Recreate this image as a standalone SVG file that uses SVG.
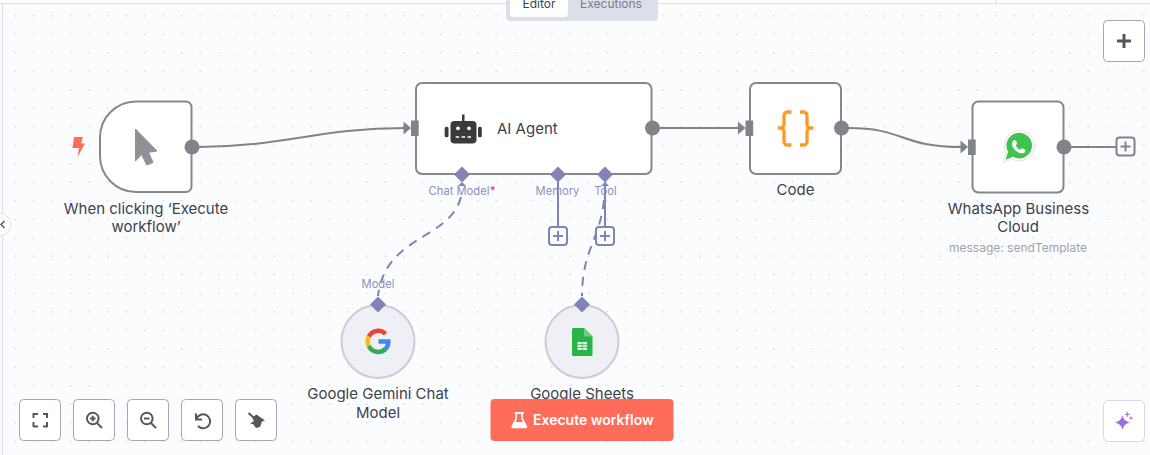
<svg xmlns="http://www.w3.org/2000/svg" width="1150" height="455" viewBox="0 0 1150 455">
<style>
text{font-family:Inter,"Noto Sans","Liberation Sans",sans-serif}
.lbl{font-size:15px;fill:#3f414d;text-anchor:middle}
.sub{font-size:12px;fill:#a0a3ad;text-anchor:middle}
.port{font-size:11.2px;fill:#8b8fc2;text-anchor:middle}
.box{fill:#fff;stroke:#85878f;stroke-width:2}
.out{fill:#808389}
.in{fill:#808389}
.edge{fill:none;stroke:#808389;stroke-width:2}
.sup{fill:none;stroke:#7f83b8;stroke-width:2}
.dash{fill:none;stroke:#7f83b8;stroke-width:2;stroke-dasharray:9 7}
.dia{fill:#7f83b8}
.pbox{fill:#fbfcfe;stroke:#7f83b8;stroke-width:2}
.pplus{fill:none;stroke:#7f83b8;stroke-width:2}
.sub-node{fill:#eff0f5;stroke:#c9ccdb;stroke-width:2}
.btn{fill:#fff;stroke:#a3a7b5;stroke-width:1}
.ico{fill:none;stroke:#555760;stroke-width:2}
</style>
<defs>
<pattern id="dots" width="18.5" height="18.5" patternUnits="userSpaceOnUse" x="6" y="6.5">
<circle cx="9.3" cy="9.2" r="0.7" fill="#c4c6cf"/>
</pattern>
</defs>
<g id="canvas">
<rect width="1150" height="455" fill="#fbfcfe"/>
<rect x="3" y="4" width="1147" height="451" fill="url(#dots)"/>
<rect x="0" y="0" width="1150" height="3.5" fill="#fff"/>
<path d="M0 3.5H1150M2.5 3.5V455M995.5 0V3.5" fill="none" stroke="#dcdfe8" stroke-width="1"/>
</g>
<g id="tabs">
<path d="M506 0H658V17a4 4 0 0 1-4 4H510a4 4 0 0 1-4-4Z" fill="#dbdfe9"/>
<path d="M510 0H568V13a4 4 0 0 1-4 4H514a4 4 0 0 1-4-4Z" fill="#fff"/>
<text x="539" y="8" text-anchor="middle" font-size="12px" fill="#3f414d">Editor</text>
<text x="611" y="8" text-anchor="middle" font-size="12px" fill="#7a7c87">Executions</text>
</g>
<g id="collapse">
<circle cx="0" cy="224.500" r="11" fill="#fff" stroke="#e0e2ea"/>
<path d="M4.500 221L1 224.500L4.500 228" fill="none" stroke="#555760" stroke-width="1.500"/>
</g>
<g id="connectors">
<path class="edge" d="M199 147C280 147 320 128 405 128"/>
<path class="edge" d="M659 128H739"/>
<path class="edge" d="M848 128C905 128 900 147 962 147"/>
<path class="edge" d="M1071 147H1116"/>
<path class="sup" d="M558 182V226M605 182V226"/>
<path class="dash" d="M461 197C450 240 385 235 378 296"/>
<path class="dash" d="M604 200C600 240 582 250 582 296"/>
<path class="dia" d="M462 182l4 4h-8ZM605 182l4 4h-8Z"/>
<rect x="549" y="227" width="18" height="18" rx="3" class="pbox"/>
<path class="pplus" d="M553 236h10M558 231v10"/>
<rect x="596" y="227" width="18" height="18" rx="3" class="pbox"/>
<path class="pplus" d="M600 236h10M605 231v10"/>
<rect x="1116.500" y="137.500" width="18" height="18" rx="3" fill="#fbfcfe" stroke="#808389" stroke-width="2"/>
<path d="M1120.500 146.500h10M1125.500 141.500v10" fill="none" stroke="#808389" stroke-width="2"/>
</g>
<g id="node-trigger">
<path class="box" d="M136 101.500H186a5.500 5.500 0 0 1 5.500 5.500V186.500a5.500 5.500 0 0 1-5.500 5.500H136a36 36 0 0 1-36-36V137.500a36 36 0 0 1 36-36Z"/>
<path fill="#909096" stroke="#909096" stroke-linejoin="round" d="M135.500 129L157 151L148.500 152.300L153 162.500L146.700 165L141.700 154.500L135.500 161Z"/>
<path fill="#ff6d5a" d="M74 137H83L81 143.500H85L77.500 157L79 148H72.500Z"/>
<circle class="out" cx="192" cy="147" r="7.500"/>
<text class="lbl" x="146" y="214">When clicking ‘Execute</text>
<text class="lbl" x="146" y="232">workflow’</text>
</g>
<g id="node-agent">
<rect class="box" x="416" y="83" width="235.500" height="91" rx="6"/>
<rect class="in" x="411" y="120.500" width="7.700" height="15.500"/>
<path class="in" d="M403.500 121.500L411 128L403.500 134.500Z"/>
<circle class="out" cx="652.500" cy="128" r="7.500"/>
<path fill="#3a3a3d" d="M462 114.500h2.500v6.500h8a4 4 0 0 1 4 4v14.500a4 4 0 0 1-4 4h-18a4 4 0 0 1-4-4V125a4 4 0 0 1 4-4h7.500Z"/>
<rect x="444.700" y="126.700" width="3.800" height="10.500" rx="1.500" fill="#3a3a3d"/>
<rect x="478" y="126.700" width="3.800" height="10.500" rx="1.500" fill="#3a3a3d"/>
<circle cx="458" cy="128.300" r="1.900" fill="#fff"/>
<circle cx="469" cy="128.300" r="1.900" fill="#fff"/>
<path d="M455.700 137h15.300" stroke="#fff" stroke-width="1.600" stroke-dasharray="3.500 2.400" fill="none"/>
<text x="497" y="134" font-size="15px" fill="#3f414d">AI Agent</text>
<path class="dia" d="M462 166.500L470 174.500L462 182.500L454 174.500Z"/>
<path class="dia" d="M558 166.500L566 174.500L558 182.500L550 174.500Z"/>
<path class="dia" d="M605 166.500L613 174.500L605 182.500L597 174.500Z"/>
<text class="port" x="459" y="195">Chat Model</text>
<text x="490" y="194" font-size="11px" fill="#f0284a">*</text>
<text class="port" x="557.500" y="195">Memory</text>
<text class="port" x="605.500" y="195">Tool</text>
</g>
<g id="node-code">
<rect class="box" x="750" y="83" width="91" height="91" rx="6"/>
<rect class="in" x="745.500" y="120.500" width="7.700" height="15.500"/>
<path class="in" d="M738 121.500L745.500 128L738 134.500Z"/>
<circle class="out" cx="841.500" cy="128" r="7.500"/>
<path fill="none" stroke="#ff9922" stroke-width="3.300" d="M791.500 112H787.500a3.500 3.500 0 0 0-3.500 3.500V124.500a3.500 3.500 0 0 1-3.500 3.500H778a0 0 0 0 0 0 0H780.500a3.500 3.500 0 0 1 3.500 3.500V141.500a3.500 3.500 0 0 0 3.500 3.500H791.500"/>
<path fill="none" stroke="#ff9922" stroke-width="3.300" d="M800 112H803.500a3.500 3.500 0 0 1 3.500 3.500V124.500a3.500 3.500 0 0 0 3.500 3.500H813.300H810.500a3.500 3.500 0 0 0-3.500 3.500V141.500a3.500 3.500 0 0 1-3.500 3.500H800"/>
<text class="lbl" x="795.500" y="195">Code</text>
</g>
<g id="node-whatsapp">
<rect class="box" x="972.500" y="101.500" width="91" height="91" rx="6"/>
<rect class="in" x="968" y="139.500" width="7.700" height="15.500"/>
<path class="in" d="M960.500 140.500L968 147L960.500 153.500Z"/>
<circle class="out" cx="1064" cy="147" r="7.500"/>
<path fill="#fff" stroke="#dfe5e2" stroke-width="1" d="M1003 162.500L1006 152.500A15 15 0 1 1 1012 158.800Z"/>
<path fill="#40c351" d="M1005.500 160L1008 151.800A12.800 12.800 0 1 1 1013 156.800Z"/>
<path fill="#fff" d="M1013.500 140.500c1-1 2-.5 2.500.5l1 2c.3.800-.8 1.800-1.200 2.500c1 2 2.300 3.200 4.300 4.200c.7-.7 1.500-1.800 2.300-1.500l2.300 1.200c1 .5 .8 1.700.2 2.500c-1.500 2-4 1.700-6.500.5c-3-1.500-5-4-6-6.500c-.7-2-.3-4 1.100-5.400Z"/>
<text class="lbl" x="1018.500" y="214">WhatsApp Business</text>
<text class="lbl" x="1018" y="232">Cloud</text>
<text class="sub" x="1018" y="252">message: sendTemplate</text>
</g>
<g id="node-gemini">
<circle class="sub-node" cx="378" cy="341.500" r="36.500"/>
<path class="dia" d="M378 296.500L386 304.500L378 312.500L370 304.500Z"/>
<path fill="none" stroke="#ea4335" stroke-width="4.500" d="M385.500 333.800A10.500 10.500 0 0 0 368.800 336.500"/>
<path fill="none" stroke="#fbbc05" stroke-width="4.500" d="M368.800 336.500A10.500 10.500 0 0 0 368.800 346"/>
<path fill="none" stroke="#34a853" stroke-width="4.500" d="M368.800 346A10.500 10.500 0 0 0 385.500 349"/>
<path fill="none" stroke="#4285f4" stroke-width="4.500" d="M385.500 349A10.500 10.500 0 0 0 388.300 341.500H378.500"/>
<text class="port" x="378" y="288">Model</text>
<text class="lbl" x="378" y="399">Google Gemini Chat</text>
<text class="lbl" x="378" y="418">Model</text>
</g>
<g id="node-sheets">
<circle class="sub-node" cx="582" cy="341.500" r="36.500"/>
<path class="dia" d="M582 296.500L590 304.500L582 312.500L574 304.500Z"/>
<path fill="#28b446" d="M573.500 328H584L592.500 336.500V354.500a1.500 1.500 0 0 1-1.500 1.500H573.500a1.500 1.500 0 0 1-1.500-1.500V329.500a1.500 1.500 0 0 1 1.500-1.500Z"/>
<path fill="#6ace7c" d="M584 328L592.500 336.500H584Z"/>
<rect x="577.500" y="342" width="9.500" height="8" fill="#e9f7ec"/>
<path d="M577.500 344.700H587M577.500 347.400H587M582.200 342V350" stroke="#28b446" stroke-width="0.800" fill="none"/>
<text class="lbl" x="582" y="399">Google Sheets</text>
</g>
<g id="execute-button">
<rect x="490.500" y="399" width="183" height="42" rx="4" fill="#ff6d5a"/>
<path fill="#fff" d="M514.500 412H524V413.500H523V418.500L527 426a1.500 1.500 0 0 1-1.300 2.300H512.800a1.500 1.500 0 0 1-1.300-2.300L515.500 418.500V413.500H514.500Z"/>
<path fill="#ff6d5a" d="M517 414H521.400V419L523 422H515.500L517 419Z"/>
<text x="533" y="425" font-size="14px" font-weight="600" fill="#fff">Execute workflow</text>
</g>
<g id="controls">
<rect class="btn" x="1103.500" y="20.500" width="41" height="41" rx="4"/>
<path d="M1117 41h14M1124 34v14" fill="none" stroke="#555760" stroke-width="3"/>
<rect class="btn" x="19.500" y="399.500" width="41" height="41" rx="4"/>
<path class="ico" d="M33.500 414H38M33.500 413V418M47.500 414H43M47 413V418M33.500 426.500H38M33.500 427V422M47.500 426.500H43M47 427V422"/>
<rect class="btn" x="73.500" y="399.500" width="41" height="41" rx="4"/>
<circle class="ico" cx="92.800" cy="418.500" r="5.800"/>
<path class="ico" d="M97 423L102 428" stroke-width="2.400"/>
<path class="ico" d="M90 418.500h5.600M92.800 415.700v5.600" stroke-width="1.500"/>
<rect class="btn" x="127.500" y="399.500" width="41" height="41" rx="4"/>
<circle class="ico" cx="146.800" cy="418.500" r="5.800"/>
<path class="ico" d="M151 423L156 428" stroke-width="2.400"/>
<path class="ico" d="M144 418.500h5.600" stroke-width="1.500"/>
<rect class="btn" x="181.500" y="399.500" width="41" height="41" rx="4"/>
<path class="ico" d="M196 413.500V419.500H202M196.500 419A7 7 0 1 1 198 426" stroke-width="2.300"/>
<rect class="btn" x="235.500" y="399.500" width="41" height="41" rx="4"/>
<path d="M248.500 413L254 418" fill="none" stroke="#555760" stroke-width="2"/>
<path fill="#555760" d="M252 417.500L256.500 414.500L265 420.500L262 421.500L260 427L256 428L253 424L250 423.500L254 421Z"/>
<rect class="btn" x="1103.500" y="400.500" width="41" height="41" rx="5" style="stroke:#d5d8e8"/>
<path fill="#9a6fe0" d="M1122.500 415C1123.500 419 1125 421 1130 422.500C1125 424 1123.500 426 1122.500 430C1121.500 426 1120 424 1115 422.500C1120 421 1121.500 419 1122.500 415Z"/>
<path d="M1127.300 412v4.800M1125 414.400h4.800" stroke="#b07ce0" stroke-width="1.300" fill="none"/>
<circle cx="1131" cy="418" r="1.600" fill="#d680d0"/>
</g>
</svg>
